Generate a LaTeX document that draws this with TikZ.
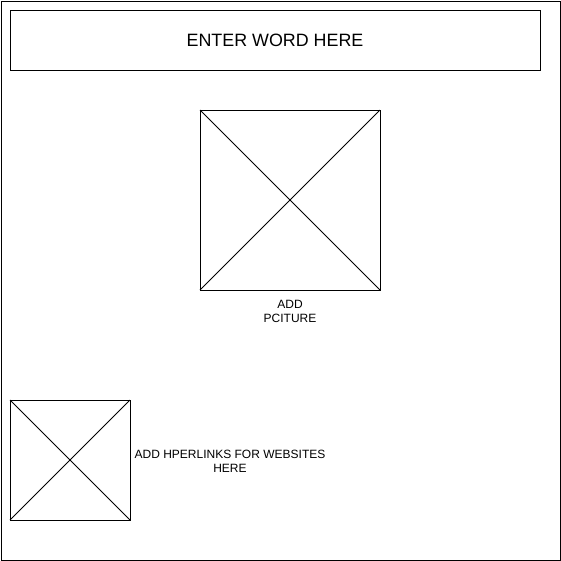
\documentclass[tikz,border=0pt]{standalone}
\usepackage{fontspec}
\setmainfont{Liberation Sans}
\usepackage{tikz}

\begin{document}
\begin{tikzpicture}[x=0.75pt, y=-0.75pt, line width=0.75pt]
        \useasboundingbox (0, 0) rectangle (561, 561);
        \draw (1, 1) rectangle (560, 560);

        \draw (10, 10) rectangle (540, 70);
        \node[font=\fontsize{13.4}{16}\selectfont] (title) at (275, 40) {ENTER WORD HERE};

        \draw (200, 110) rectangle (380, 290);
        \draw (200, 110) -- (380, 290);
        \draw (380, 110) -- (200, 290);
        \node[font=\fontsize{9}{10.8}\selectfont, align=center] (piclabel) at (290, 311.5) {ADD\\PCITURE};

        \draw (10, 400) rectangle (130, 520);
        \draw (10, 400) -- (130, 520);
        \draw (130, 400) -- (10, 520);
        \node[font=\fontsize{9}{10.8}\selectfont, align=center] (linklabel) at (230, 461.5) {ADD HPERLINKS FOR WEBSITES\\HERE};
    \end{tikzpicture}
\end{document}
